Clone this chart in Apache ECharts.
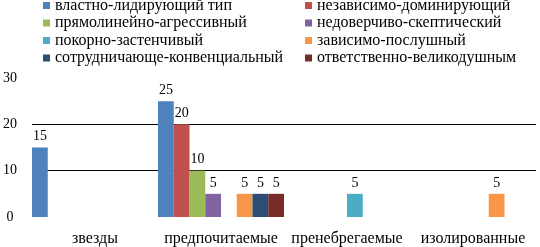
<!DOCTYPE html>
<html><head><meta charset="utf-8">
<script src="https://cdn.jsdelivr.net/npm/echarts@6/dist/echarts.min.js"></script>
<style>html,body{margin:0;padding:0;background:#fff}#c{width:540px;height:247px}</style>
</head><body><div id="c"></div>
<script>
const categories = ['звезды', 'предпочитаемые', 'пренебрегаемые', 'изолированные'];
const seriesNames = ['властно-лидирующий тип', 'независимо-доминирующий', 'прямолинейно-агрессивный', 'недоверчиво-скептический', 'покорно-застенчивый', 'зависимо-послушный', 'сотрудничающе-конвенциальный', 'ответственно-великодушным'];
const s1 = [15, 25, null, null];
const s2 = [null, 20, null, null];
const s3 = [null, 10, null, null];
const s4 = [null, 5, null, null];
const s5 = [null, null, 5, null];
const s6 = [null, 5, null, 5];
const s7 = [null, 5, null, null];
const s8 = [null, 5, null, null];
const yTicks = [0, 10, 20, 30];
const colors = ['#4F81BD', '#C0504D', '#9BBB59', '#8064A2', '#4BACC6', '#F79646', '#2C4D75', '#772C2A'];
const values = [s1, s2, s3, s4, s5, s6, s7, s8];
const FF = 'Liberation Serif';
const chart = echarts.init(document.getElementById('c'));
const legendCommon = {orient: 'vertical', top: -8, itemWidth: 7, itemHeight: 7, itemGap: 0.5, icon: 'rect',
  textStyle: {fontFamily: FF, fontSize: 16, lineHeight: 17, color: '#000'}};
chart.setOption({
  animation: false,
  color: colors,
  textStyle: {fontFamily: FF},
  legend: [
    Object.assign({left: 38, data: [seriesNames[0], seriesNames[2], seriesNames[4], seriesNames[6]]}, legendCommon),
    Object.assign({left: 300, data: [seriesNames[1], seriesNames[3], seriesNames[5], seriesNames[7]]}, legendCommon)
  ],
  grid: {left: 32, right: 4, top: 78, bottom: 30, containLabel: false},
  xAxis: {type: 'category', data: categories, axisLine: {show: false}, axisTick: {show: false},
    axisLabel: {interval: 0, fontFamily: FF, fontSize: 16, color: '#000', margin: 14}},
  yAxis: {type: 'value', min: yTicks[0], max: yTicks[yTicks.length-1], interval: 10,
    axisLine: {show: false}, axisTick: {show: false},
    axisLabel: {fontFamily: FF, fontSize: 14, color: '#000', margin: 22, align: 'center'},
    splitLine: {show: true, lineStyle: {color: ['transparent', '#000', '#000', 'transparent'], width: 1}}},
  series: values.map((v, i) => ({
    name: seriesNames[i], type: 'bar', data: v, barGap: '0%', barCategoryGap: '0%',
    label: {show: true, position: 'top', distance: 4, fontFamily: FF, fontSize: 14, color: '#000'}
  }))
});
</script></body></html>
